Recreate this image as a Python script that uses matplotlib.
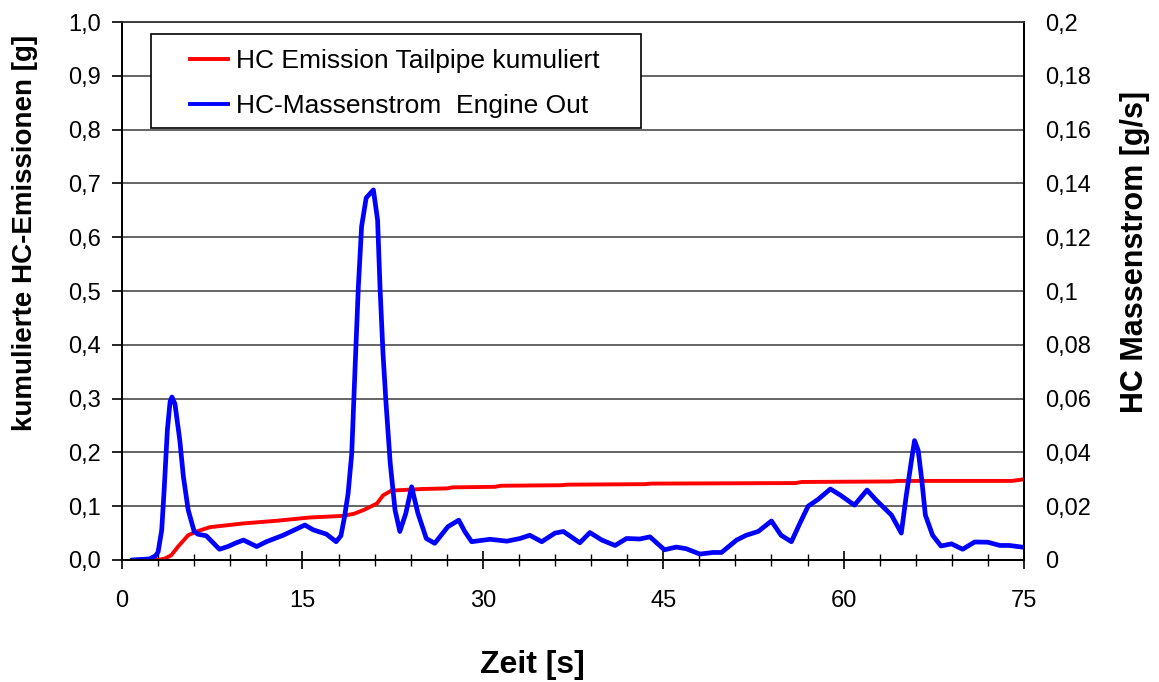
import matplotlib
matplotlib.use('Agg')
import matplotlib.pyplot as plt
from matplotlib.lines import Line2D
from matplotlib.patches import Rectangle
from matplotlib.ticker import MultipleLocator

plt.rcParams['font.family'] = ['Liberation Sans', 'DejaVu Sans']

# kumulierte HC-Emissionen am Endrohr [g]
t_tailpipe = [2.0, 3.0, 3.6, 4.1, 4.7, 5.5, 6.2, 7.3, 10.1, 12.9, 15.6, 18.4, 19.3,
              20.1, 21.2, 21.7, 22.4, 25.0, 27.0, 27.5, 31.0, 31.5, 36.5, 37.0,
              43.5, 44.0, 56.0, 56.5, 64.0, 64.5, 74.0, 75.0]
hc_tailpipe = [0.0, 0.0, 0.003, 0.009, 0.026, 0.046, 0.053, 0.061, 0.068, 0.073,
               0.079, 0.082, 0.086, 0.093, 0.105, 0.120, 0.129, 0.132, 0.133, 0.135,
               0.136, 0.138, 0.139, 0.140, 0.141, 0.142, 0.143, 0.145, 0.146, 0.147,
               0.147, 0.150]

# HC-Massenstrom Engine Out [g/s]
t_engine = [0.8, 2.3, 2.8, 3.0, 3.3, 3.5, 3.77, 4.0, 4.15, 4.4, 4.8, 5.1, 5.5, 6.0,
            6.3, 7.0, 8.1, 8.8, 9.5, 10.1, 11.2, 12.0, 13.4, 15.2, 15.9, 17.0, 17.8,
            18.2, 18.5, 18.8, 19.1, 19.37, 19.65, 19.92, 20.3, 20.9, 21.25, 21.45,
            21.7, 21.95, 22.3, 22.7, 23.1, 23.6, 24.08, 24.6, 25.3, 26.0, 27.1, 28.0,
            28.5, 29.07, 30.6, 32.0, 33.1, 33.9, 34.9, 36.0, 36.7, 38.07, 38.9, 39.9,
            41.0, 41.95, 43.05, 43.9, 45.1, 46.1, 46.9, 48.05, 49.15, 49.85, 51.1,
            51.9, 52.9, 54.0, 54.8, 55.66, 56.36, 57.05, 57.9, 58.9, 59.7, 60.9,
            61.95, 62.7, 63.98, 64.8, 65.2, 65.65, 65.9, 66.2, 66.5, 66.8, 67.4,
            68.1, 68.97, 69.9, 70.9, 72.0, 73.0, 73.8, 75.0]
hc_engine = [0.0, 0.0004, 0.0016, 0.003, 0.0112, 0.026, 0.0484, 0.059, 0.0606, 0.058,
             0.0446, 0.031, 0.0186, 0.0106, 0.0096, 0.009, 0.004, 0.005, 0.0064,
             0.0074, 0.005, 0.0068, 0.0092, 0.013, 0.0112, 0.0096, 0.0068, 0.009,
             0.016, 0.0248, 0.0396, 0.0706, 0.1016, 0.124, 0.1346, 0.1376, 0.1264,
             0.1016, 0.0768, 0.0584, 0.036, 0.0186, 0.0106, 0.0174, 0.0272, 0.0174,
             0.008, 0.0062, 0.0124, 0.0148, 0.0106, 0.0068, 0.0077, 0.007, 0.008,
             0.0092, 0.0068, 0.01, 0.0106, 0.0064, 0.0102, 0.0074, 0.0054, 0.008,
             0.0078, 0.0086, 0.0038, 0.0048, 0.0042, 0.0022, 0.0028, 0.0028, 0.0074,
             0.0092, 0.0106, 0.0145, 0.0092, 0.0068, 0.0136, 0.02, 0.0226, 0.0264,
             0.0242, 0.0204, 0.026, 0.0223, 0.0167, 0.01, 0.0236, 0.0372, 0.0444,
             0.0408, 0.0298, 0.0167, 0.0092, 0.0052, 0.006, 0.004, 0.0067, 0.0066,
             0.0054, 0.0054, 0.0047]

left_ticks = [0.0, 0.1, 0.2, 0.3, 0.4, 0.5, 0.6, 0.7, 0.8, 0.9, 1.0]
left_labels = ['0,0', '0,1', '0,2', '0,3', '0,4', '0,5', '0,6', '0,7', '0,8', '0,9', '1,0']
right_ticks = [0.0, 0.02, 0.04, 0.06, 0.08, 0.1, 0.12, 0.14, 0.16, 0.18, 0.2]
right_labels = ['0', '0,02', '0,04', '0,06', '0,08', '0,1', '0,12', '0,14', '0,16', '0,18', '0,2']
x_ticks = [0, 15, 30, 45, 60, 75]

fig = plt.figure(figsize=(11.59, 6.82), dpi=100)
ax = fig.add_axes([0.1053, 0.1789, 0.7782, 0.7888])
ax2 = ax.twinx()

ax.plot(t_tailpipe, hc_tailpipe, color='#ff0000', lw=2.8, solid_capstyle='round')
ax2.plot(t_engine, hc_engine, color='#0000ff', lw=3.4, solid_capstyle='round',
         solid_joinstyle='round')

ax.set_xlim(0, 75)
ax.set_ylim(0, 1.0)
ax2.set_ylim(0, 0.2)

ax.set_xticks(x_ticks)
ax.xaxis.set_minor_locator(MultipleLocator(3))
ax.set_yticks(left_ticks)
ax.set_yticklabels(left_labels)
ax2.set_yticks(right_ticks)
ax2.set_yticklabels(right_labels)

ax.tick_params(axis='x', which='major', direction='inout', length=13, width=1.2,
               labelsize=17, pad=15)
ax.tick_params(axis='x', which='minor', direction='inout', length=8, width=1.0)
ax.tick_params(axis='y', direction='out', length=7, width=1.2, labelsize=17, pad=8)
ax2.tick_params(axis='y', length=0, labelsize=17, pad=15)

ax.grid(axis='y', color='#3a3a3a', lw=1.1)
ax.set_axisbelow(True)
for a in (ax, ax2):
    a.spines['left'].set_linewidth(1.4)
    a.spines['bottom'].set_linewidth(1.4)
    a.spines['right'].set_linewidth(1.4)
    a.spines['top'].set_color('#3a3a3a')
    a.spines['top'].set_linewidth(1.1)

ax.set_xlabel('Zeit [s]', fontsize=23, fontweight='bold', va='center')
ax.xaxis.set_label_coords(0.455, -0.195)
ax.set_ylabel('kumulierte HC-Emissionen [g]', fontsize=20, fontweight='bold',
              va='center')
ax.yaxis.set_label_coords(-0.1075, 0.608)
ax2.set_ylabel('HC Massenstrom [g/s]', fontsize=22, fontweight='bold', rotation=90,
               va='center')
ax2.yaxis.set_label_coords(1.123, 0.572)

# Legendenrahmen separat, damit die Innenabstaende frei waehlbar sind
ax2.add_patch(Rectangle((0.032, 0.803), 0.543, 0.175, transform=ax2.transAxes,
                        facecolor='white', edgecolor='black', lw=1.2, zorder=5))
handles = [Line2D([], [], color='#ff0000', lw=2.8),
           Line2D([], [], color='#0000ff', lw=2.8)]
leg = ax2.legend(handles, ['HC Emission Tailpipe kumuliert', 'HC-Massenstrom  Engine Out'],
                 loc='center left', bbox_to_anchor=(0.0754, 0.885), frameon=False,
                 borderpad=0, borderaxespad=0, fontsize=19, handlelength=1.45,
                 handletextpad=0.3, labelspacing=0.8)
leg.set_zorder(6)

fig.savefig('out.png', dpi=100)
